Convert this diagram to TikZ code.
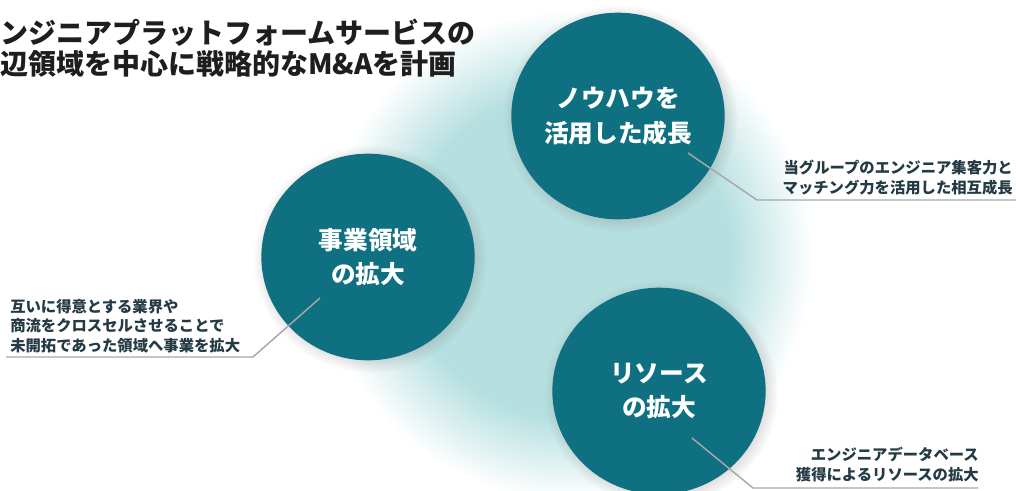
\documentclass[tikz,border=0pt]{standalone}
\usepackage{fontspec}
\newfontfamily\jpfont{Noto Sans CJK JP}
\usetikzlibrary{shapes.geometric,shadows}
\definecolor{circleteal}{HTML}{0E7081}
\definecolor{glowteal}{HTML}{B6DFDF}
\definecolor{leadergray}{HTML}{A4A8AA}
\definecolor{notetext}{HTML}{243A44}
\definecolor{titletext}{HTML}{1E1E1E}
\pgfdeclareradialshading{glow}{\pgfpoint{0bp}{0bp}}{color(0bp)=(glowteal); color(16.5bp)=(glowteal); color(25bp)=(white); color(50bp)=(white)}
\begin{document}
\begin{tikzpicture}[x=0.75pt,y=-0.75pt,
	topic/.style={ellipse,fill=circleteal,minimum width=160pt,minimum height=155pt,inner sep=0pt,text=white,align=center,
		font=\jpfont\bfseries\fontsize{18.5}{26}\selectfont,circular drop shadow={shadow xshift=1.5pt,shadow yshift=-1.5pt,opacity=0.3}},
	note/.style={inner sep=0pt,text=notetext,font=\jpfont\bfseries\fontsize{11.5}{14.5}\selectfont},
	headline/.style={anchor=west,inner sep=0pt,text=titletext,font=\jpfont\bfseries\fontsize{21}{21}\selectfont},
	leader/.style={draw=leadergray,line width=1.1pt}]
	\useasboundingbox (0,0) rectangle (1016,490);
	\clip (0,0) rectangle (1016,490);
	% soft glow behind the three circles
	\shade [shading=glow] (568,255) circle (245);
	% title
	\node [headline] (title1) at (0,33) {ンジニアプラットフォームサービスの};
	\node [headline] (title2) at (0,64) {辺領域を中心に戦略的なM\&Aを計画};
	% circles
	\node [topic] (know) at (618,116) {ノウハウを\\活用した成長};
	\node [topic] (biz) at (368,257) {事業領域\\の拡大};
	\node [topic] (res) at (659,391) {リソース\\の拡大};
	% notes
	\node [note,anchor=south east,align=right] (knownote) at (1013,195) {当グループのエンジニア集客力と\\マッチング力を活用した相互成長};
	\node [note,anchor=south west,align=left] (biznote) at (10,353) {互いに得意とする業界や\\商流をクロスセルさせることで\\未開拓であった領域へ事業を拡大};
	\node [note,anchor=south east,align=right] (resnote) at (979,482) {エンジニアデータベース\\獲得によるリソースの拡大};
	% leader lines
	\coordinate (knowa) at (688,153);
	\coordinate (knowb) at (757,200);
	\coordinate (knowc) at (1016,200);
	\coordinate (biza) at (320,298);
	\coordinate (bizb) at (253,357);
	\coordinate (bizc) at (6,357);
	\coordinate (resa) at (692,438);
	\coordinate (resb) at (753,488);
	\coordinate (resc) at (978,488);
	\draw [leader] (knowa) -- (knowb) -- (knowc);
	\draw [leader] (biza) -- (bizb) -- (bizc);
	\draw [leader] (resa) -- (resb) -- (resc);
\end{tikzpicture}
\end{document}
